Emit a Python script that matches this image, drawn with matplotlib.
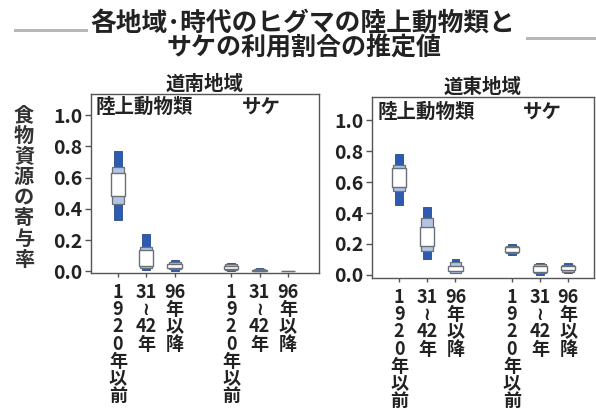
import matplotlib
matplotlib.use("Agg")
import matplotlib.pyplot as plt
import matplotlib.transforms as mtransforms
from matplotlib.lines import Line2D

plt.rcParams['font.family'] = ['Noto Sans CJK JP', 'DejaVu Sans']

# Categories (x positions: land 0-2, salmon 4-6)
periods = ["1\n9\n2\n0\n年\n以\n前", "31\n≀\n42\n年", "96\n年\n以\n降"]
positions = [0, 1, 2, 4, 5, 6]
tick_labels = periods + periods

# Estimated contribution ranges per region: outer / middle / inner intervals
# order: land(1920以前, 31~42年, 96年以降), salmon(1920以前, 31~42年, 96年以降)
south_outer_lo = [0.33, 0.012, 0.005, 0.000, 0.000, 0.000]
south_outer_hi = [0.77, 0.240, 0.070, 0.055, 0.025, 0.004]
south_mid_lo = [0.43, 0.025, 0.015, 0.010, 0.000, 0.000]
south_mid_hi = [0.67, 0.155, 0.060, 0.045, 0.018, 0.003]
south_in_lo = [0.48, 0.035, 0.025, 0.015, 0.000, 0.000]
south_in_hi = [0.63, 0.135, 0.050, 0.035, 0.012, 0.002]

east_outer_lo = [0.455, 0.10, 0.010, 0.13, 0.000, 0.015]
east_outer_hi = [0.780, 0.44, 0.105, 0.20, 0.080, 0.075]
east_mid_lo = [0.54, 0.157, 0.015, 0.14, 0.010, 0.020]
east_mid_hi = [0.71, 0.370, 0.085, 0.19, 0.070, 0.065]
east_in_lo = [0.57, 0.19, 0.025, 0.15, 0.020, 0.030]
east_in_hi = [0.69, 0.31, 0.060, 0.18, 0.055, 0.055]

yticks = [0.0, 0.2, 0.4, 0.6, 0.8, 1.0]
ytick_labels = ["0.0", "0.2", "0.4", "0.6", "0.8", "1.0"]

DARK = "#2c5bb0"
MID = "#b3c5e4"
EDGE = "#6a6f78"
TEXT = "#222222"
SPINE = "#555555"

fig = plt.figure(figsize=(5.96, 4.16), dpi=100)

# Title with decorative rules on both sides
fig.text(0.508, 0.945, "各地域･時代のヒグマの陸上動物類と", ha="center", va="center",
         fontsize=18.5, fontweight="bold", color=TEXT)
fig.text(0.510, 0.884, "サケの利用割合の推定値", ha="center", va="center",
         fontsize=18, fontweight="bold", color=TEXT)
fig.add_artist(Line2D([0.025, 0.145], [0.928, 0.928], color="#b8b8b8", lw=2.2,
                      transform=fig.transFigure))
fig.add_artist(Line2D([0.885, 1.0], [0.909, 0.909], color="#b8b8b8", lw=2.2,
                      transform=fig.transFigure))

# Vertical y-axis label (stacked characters)
ylabel = "食物資源の寄与率"
y0, dy = 416 - 115, 20.6
for i, ch in enumerate(ylabel):
    fig.text(24 / 596, (y0 - i * dy) / 416, ch, ha="center", va="center",
             fontsize=14.5, fontweight="bold", color="#333333")


def draw_panel(ax, title, olo, ohi, mlo, mhi, ilo, ihi, ylim, xlim, label_y):
    ax.bar(positions, [h - l for l, h in zip(olo, ohi)], bottom=olo, width=0.28,
           color=DARK, edgecolor="#244a8f", linewidth=0.6, zorder=2)
    ax.bar(positions, [h - l for l, h in zip(mlo, mhi)], bottom=mlo, width=0.42,
           color=MID, edgecolor=EDGE, linewidth=0.9, zorder=3)
    ax.bar(positions, [h - l for l, h in zip(ilo, ihi)], bottom=ilo, width=0.50,
           color="white", edgecolor=EDGE, linewidth=1.0, zorder=4)
    ax.set_xlim(*xlim)
    ax.set_ylim(*ylim)
    ax.set_yticks(yticks, ytick_labels, fontsize=14, fontweight="bold", color=TEXT)
    ax.set_xticks(positions, tick_labels, fontsize=13, fontweight="bold", color=TEXT,
                  linespacing=0.89, va="top")
    ax.tick_params(axis="y", direction="out", length=4, width=1, pad=2, colors=SPINE,
                   labelcolor=TEXT)
    ax.tick_params(axis="x", direction="out", length=3, width=1, pad=4, colors=SPINE,
                   labelcolor=TEXT)
    for sp in ax.spines.values():
        sp.set_color(SPINE)
        sp.set_linewidth(1.0)
    ax.set_title(title, fontsize=14, fontweight="bold", color=TEXT, pad=1)
    trans = mtransforms.blended_transform_factory(ax.transData, ax.transAxes)
    ax.text(-0.78, label_y, "陸上動物類", transform=trans, ha="left", va="center",
            fontsize=14, fontweight="bold", color=TEXT)
    ax.text(4.38, label_y, "サケ", transform=trans, ha="left", va="center",
            fontsize=14, fontweight="bold", color=TEXT)


ax1 = fig.add_axes([91 / 596, 1 - 273 / 416, 228 / 596, 179 / 416])
draw_panel(ax1, "道南地域", south_outer_lo, south_outer_hi, south_mid_lo, south_mid_hi,
           south_in_lo, south_in_hi, (-0.01, 1.135), (-0.95, 7.1), 0.925)

ax2 = fig.add_axes([372 / 596, 1 - 278 / 416, 222 / 596, 181 / 416])
draw_panel(ax2, "道東地域", east_outer_lo, east_outer_hi, east_mid_lo, east_mid_hi,
           east_in_lo, east_in_hi, (-0.02, 1.15), (-0.96, 6.91), 0.915)

fig.savefig("out.png", dpi=100, facecolor="white")
